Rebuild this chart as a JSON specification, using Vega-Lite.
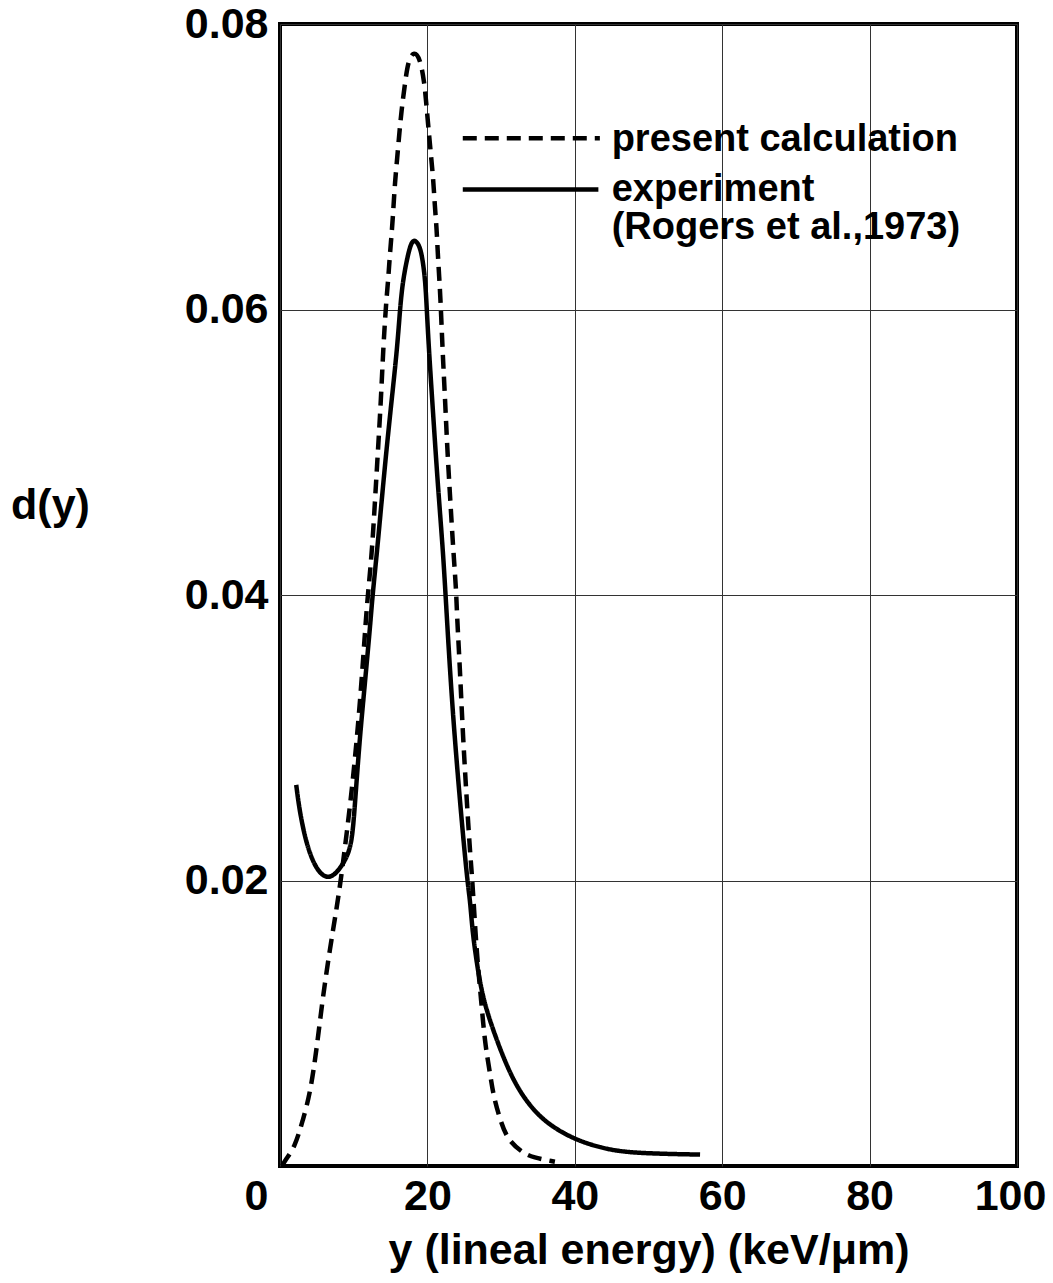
{
  "$schema": "https://vega.github.io/schema/vega-lite/v6.json",
  "width": 737,
  "height": 1142,
  "autosize": {"type": "none"},
  "padding": {"left": 280, "top": 24, "right": 36, "bottom": 117},
  "background": "white",
  "datasets": {
    "curves": [
      {"series": "calc", "x": 0.3, "y": 0.0},
      {"series": "calc", "x": 0.7, "y": 0.0004},
      {"series": "calc", "x": 2.0, "y": 0.0013},
      {"series": "calc", "x": 3.1, "y": 0.0032},
      {"series": "calc", "x": 4.1, "y": 0.0051},
      {"series": "calc", "x": 5.0, "y": 0.0083},
      {"series": "calc", "x": 5.8, "y": 0.0118},
      {"series": "calc", "x": 6.8, "y": 0.0153},
      {"series": "calc", "x": 7.7, "y": 0.0181},
      {"series": "calc", "x": 8.3, "y": 0.0202},
      {"series": "calc", "x": 9.1, "y": 0.0235},
      {"series": "calc", "x": 9.9, "y": 0.027},
      {"series": "calc", "x": 10.9, "y": 0.0326},
      {"series": "calc", "x": 11.7, "y": 0.0387},
      {"series": "calc", "x": 12.0, "y": 0.0404},
      {"series": "calc", "x": 12.5, "y": 0.0432},
      {"series": "calc", "x": 12.9, "y": 0.0467},
      {"series": "calc", "x": 13.3, "y": 0.0502},
      {"series": "calc", "x": 13.7, "y": 0.0537},
      {"series": "calc", "x": 14.0, "y": 0.0572},
      {"series": "calc", "x": 14.4, "y": 0.0605},
      {"series": "calc", "x": 14.7, "y": 0.0622},
      {"series": "calc", "x": 14.9, "y": 0.0638},
      {"series": "calc", "x": 15.2, "y": 0.0656},
      {"series": "calc", "x": 15.4, "y": 0.0672},
      {"series": "calc", "x": 15.6, "y": 0.0689},
      {"series": "calc", "x": 15.9, "y": 0.0706},
      {"series": "calc", "x": 16.2, "y": 0.0724},
      {"series": "calc", "x": 16.5, "y": 0.074},
      {"series": "calc", "x": 16.9, "y": 0.0756},
      {"series": "calc", "x": 17.4, "y": 0.0775},
      {"series": "calc", "x": 18.2, "y": 0.0781},
      {"series": "calc", "x": 19.0, "y": 0.0776},
      {"series": "calc", "x": 19.6, "y": 0.0759},
      {"series": "calc", "x": 19.9, "y": 0.0741},
      {"series": "calc", "x": 20.2, "y": 0.0724},
      {"series": "calc", "x": 20.5, "y": 0.0707},
      {"series": "calc", "x": 20.8, "y": 0.0691},
      {"series": "calc", "x": 21.0, "y": 0.0673},
      {"series": "calc", "x": 21.25, "y": 0.0657},
      {"series": "calc", "x": 21.4, "y": 0.064},
      {"series": "calc", "x": 21.6, "y": 0.0623},
      {"series": "calc", "x": 21.8, "y": 0.0605},
      {"series": "calc", "x": 22.05, "y": 0.0572},
      {"series": "calc", "x": 22.4, "y": 0.0537},
      {"series": "calc", "x": 22.7, "y": 0.0502},
      {"series": "calc", "x": 23.1, "y": 0.0467},
      {"series": "calc", "x": 23.5, "y": 0.0432},
      {"series": "calc", "x": 23.9, "y": 0.0404},
      {"series": "calc", "x": 24.0, "y": 0.0387},
      {"series": "calc", "x": 24.4, "y": 0.035},
      {"series": "calc", "x": 24.8, "y": 0.0303},
      {"series": "calc", "x": 25.4, "y": 0.0251},
      {"series": "calc", "x": 25.8, "y": 0.0219},
      {"series": "calc", "x": 26.1, "y": 0.02},
      {"series": "calc", "x": 26.5, "y": 0.0165},
      {"series": "calc", "x": 26.9, "y": 0.0137},
      {"series": "calc", "x": 27.3, "y": 0.0116},
      {"series": "calc", "x": 27.8, "y": 0.0086},
      {"series": "calc", "x": 28.5, "y": 0.0065},
      {"series": "calc", "x": 29.0, "y": 0.0048},
      {"series": "calc", "x": 29.9, "y": 0.0032},
      {"series": "calc", "x": 30.9, "y": 0.0018},
      {"series": "calc", "x": 33.0, "y": 0.0009},
      {"series": "calc", "x": 34.3, "y": 0.0006},
      {"series": "calc", "x": 37.3, "y": 0.0003},
      {"series": "exp", "x": 2.2, "y": 0.0267},
      {"series": "exp", "x": 2.7, "y": 0.0247},
      {"series": "exp", "x": 3.7, "y": 0.0223},
      {"series": "exp", "x": 5.0, "y": 0.0207},
      {"series": "exp", "x": 6.4, "y": 0.0201},
      {"series": "exp", "x": 7.7, "y": 0.0205},
      {"series": "exp", "x": 9.1, "y": 0.0216},
      {"series": "exp", "x": 9.8, "y": 0.0228},
      {"series": "exp", "x": 10.2, "y": 0.0256},
      {"series": "exp", "x": 10.8, "y": 0.0298},
      {"series": "exp", "x": 11.3, "y": 0.0326},
      {"series": "exp", "x": 12.3, "y": 0.0382},
      {"series": "exp", "x": 12.5, "y": 0.0397},
      {"series": "exp", "x": 13.2, "y": 0.0432},
      {"series": "exp", "x": 14.0, "y": 0.0478},
      {"series": "exp", "x": 14.9, "y": 0.0525},
      {"series": "exp", "x": 15.9, "y": 0.0572},
      {"series": "exp", "x": 16.3, "y": 0.0602},
      {"series": "exp", "x": 16.7, "y": 0.0621},
      {"series": "exp", "x": 17.3, "y": 0.0637},
      {"series": "exp", "x": 17.8, "y": 0.0647},
      {"series": "exp", "x": 18.3, "y": 0.0649},
      {"series": "exp", "x": 18.9, "y": 0.0645},
      {"series": "exp", "x": 19.3, "y": 0.0637},
      {"series": "exp", "x": 19.7, "y": 0.0621},
      {"series": "exp", "x": 19.9, "y": 0.0602},
      {"series": "exp", "x": 20.2, "y": 0.0572},
      {"series": "exp", "x": 20.8, "y": 0.0525},
      {"series": "exp", "x": 21.4, "y": 0.0478},
      {"series": "exp", "x": 22.1, "y": 0.0432},
      {"series": "exp", "x": 22.5, "y": 0.0397},
      {"series": "exp", "x": 23.3, "y": 0.0326},
      {"series": "exp", "x": 24.4, "y": 0.0256},
      {"series": "exp", "x": 25.4, "y": 0.02},
      {"series": "exp", "x": 25.8, "y": 0.0186},
      {"series": "exp", "x": 26.1, "y": 0.0165},
      {"series": "exp", "x": 26.7, "y": 0.0142},
      {"series": "exp", "x": 27.5, "y": 0.0118},
      {"series": "exp", "x": 28.9, "y": 0.0095},
      {"series": "exp", "x": 31.5, "y": 0.006},
      {"series": "exp", "x": 34.3, "y": 0.0039},
      {"series": "exp", "x": 37.0, "y": 0.0027},
      {"series": "exp", "x": 40.3, "y": 0.0018},
      {"series": "exp", "x": 43.4, "y": 0.0013},
      {"series": "exp", "x": 47.1, "y": 0.0009},
      {"series": "exp", "x": 57.0, "y": 0.0008}
    ],
    "legendLines": [
      {"series": "calc", "x": 24.8, "x2": 43.4, "y": 0.072},
      {"series": "exp", "x": 24.8, "x2": 43.2, "y": 0.0684}
    ],
    "legendText": [
      {"label": "present calculation", "x": 45.0, "y": 0.0719},
      {"label": "experiment", "x": 45.0, "y": 0.0684},
      {"label": "(Rogers et al.,1973)", "x": 45.0, "y": 0.0657}
    ]
  },
  "layer": [
    {
      "data": {"name": "curves"},
      "mark": {"type": "line", "color": "black", "strokeWidth": 4.5, "interpolate": "basis"},
      "encoding": {
        "x": {
          "field": "x", "type": "quantitative",
          "scale": {"domain": [0, 100], "nice": false, "zero": false},
          "axis": {
            "values": [0, 20, 40, 60, 80, 100],
            "title": "y (lineal energy) (keV/\u03bcm)",
            "titleY": 84,
            "titleBaseline": "middle",
            "labelPadding": 9,
            "labelFlush": false,
            "labelOffset": {"condition": [{"test": "datum.value == 0", "value": -24}, {"test": "datum.value == 100", "value": -7}], "value": 0}
          }
        },
        "y": {
          "field": "y", "type": "quantitative",
          "scale": {"domain": [0, 0.08], "nice": false},
          "axis": {
            "values": [0.02, 0.04, 0.06, 0.08],
            "format": ".2f",
            "title": "d(y)",
            "titleAngle": 0,
            "titleX": -230,
            "titleY": 481,
            "titleAlign": "center",
            "titleBaseline": "middle",
            "labelPadding": 12
          }
        },
        "detail": {"field": "series"},
        "strokeDash": {
          "field": "series", "type": "nominal",
          "scale": {"domain": ["calc", "exp"], "range": [[14, 8], [1, 0]]},
          "legend": null
        }
      }
    },
    {
      "data": {"name": "legendLines"},
      "mark": {"type": "rule", "color": "black", "strokeWidth": 4.5},
      "encoding": {
        "x": {"field": "x", "type": "quantitative"},
        "x2": {"field": "x2"},
        "y": {"field": "y", "type": "quantitative"},
        "strokeDash": {
          "field": "series", "type": "nominal",
          "scale": {"domain": ["calc", "exp"], "range": [[14, 8], [1, 0]]},
          "legend": null
        }
      }
    },
    {
      "data": {"name": "legendText"},
      "mark": {"type": "text", "align": "left", "baseline": "middle", "font": "Liberation Sans", "fontWeight": "bold", "fontSize": 38, "color": "black"},
      "encoding": {
        "x": {"field": "x", "type": "quantitative"},
        "y": {"field": "y", "type": "quantitative"},
        "text": {"field": "label"}
      }
    }
  ],
  "config": {
    "view": {"stroke": "black", "strokeWidth": 4},
    "axis": {
      "domain": false,
      "ticks": false,
      "grid": true,
      "gridColor": "#333333",
      "gridWidth": 1,
      "gridOpacity": 1,
      "labelFont": "Liberation Sans",
      "labelFontWeight": "bold",
      "labelFontSize": 43,
      "labelColor": "black",
      "titleFont": "Liberation Sans",
      "titleFontWeight": "bold",
      "titleFontSize": 43,
      "titleColor": "black"
    }
  }
}
